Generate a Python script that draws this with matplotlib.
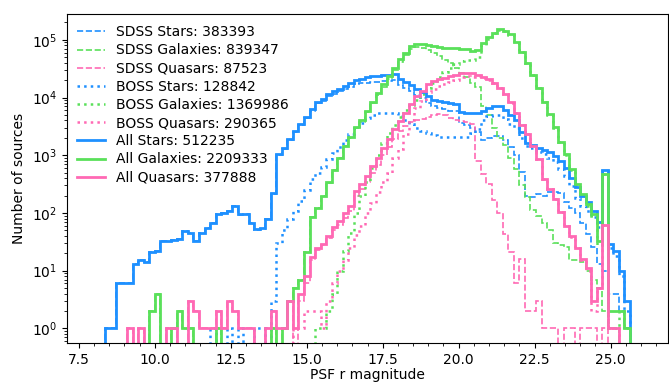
import numpy as np
import matplotlib
matplotlib.use('Agg')
import matplotlib.pyplot as plt
from matplotlib.ticker import MultipleLocator

# histogram bin edges (PSF r magnitude)
edges = np.linspace(8, 26, 100)

sdss_stars = [
    0, 0, 1, 1, 6, 6, 6, 13, 15, 14,
    21, 22, 32, 32, 34, 36, 48, 45, 33, 45,
    54, 67, 94, 100, 108, 133, 93, 94, 66, 51,
    53, 80, 215, 1010, 1300, 1810, 2520, 3280, 4350, 5870,
    8000, 8670, 10550, 11700, 12810, 14300, 15500, 16900, 17600, 17900,
    18300, 18700, 19100, 19500, 20000, 16500, 14600, 12800, 11200, 9900,
    8100, 7000, 6600, 6250, 5950, 5750, 3550, 3300, 2950, 2500,
    1850, 2000, 2170, 2170, 1800, 1400, 1000, 520, 200, 190,
    210, 200, 230, 230, 220, 155, 120, 98, 66, 44,
    26, 13, 10, 4, 4, 2, 1, 0, 0]
sdss_galaxies = [
    0, 0, 0, 0, 0, 0, 0, 0, 0, 0,
    2, 4, 0, 0, 1, 2, 1, 1, 0, 0,
    0, 0, 1, 0, 0, 0, 0, 0, 0, 0,
    0, 0, 1, 0, 1, 3, 5, 7, 21, 84,
    123, 197, 335, 556, 900, 1428, 1985, 2940, 3830, 5520,
    7900, 11200, 15300, 21200, 29600, 41200, 54000, 70100, 76000, 73500,
    67000, 59000, 52000, 45000, 39000, 33000, 27000, 23000, 18000, 15000,
    7000, 5000, 3000, 2000, 1500, 900, 575, 300, 190, 112,
    90, 66, 50, 30, 28, 26, 15, 15, 14, 10,
    7, 5, 2, 1, 1, 0, 0, 0, 0]
sdss_quasars = [
    0, 0, 0, 0, 0, 0, 1, 0, 1, 0,
    0, 0, 0, 1, 1, 0, 0, 3, 2, 1,
    1, 1, 2, 1, 3, 2, 1, 1, 1, 0,
    0, 1, 2, 1, 1, 3, 0, 3, 6, 15,
    23, 28, 37, 50, 63, 83, 108, 200, 255, 340,
    500, 680, 1000, 1400, 1900, 2600, 3200, 3700, 4000, 4300,
    4600, 5000, 5100, 4900, 4500, 4100, 3900, 3800, 3500, 800,
    470, 320, 166, 98, 44, 21, 6, 16, 2, 2,
    3, 1, 1, 1, 0, 1, 1, 0, 1, 1,
    1, 0, 1, 0, 0, 0, 0, 0, 0]
boss_stars = [
    0, 0, 0, 0, 0, 0, 0, 0, 0, 0,
    0, 0, 0, 0, 0, 0, 0, 0, 0, 0,
    0, 1, 0, 0, 1, 0, 1, 0, 0, 1,
    1, 0, 3, 30, 50, 80, 110, 160, 250, 380,
    500, 630, 850, 1100, 1390, 1800, 2300, 3000, 3600, 4400,
    5000, 5300, 5500, 5500, 5300, 4700, 4000, 3500, 3000, 2600,
    2400, 2200, 2100, 2050, 2050, 2050, 2050, 2100, 2450, 2900,
    4000, 4700, 4900, 4900, 4200, 3500, 3000, 2000, 1460, 1320,
    1140, 1030, 890, 750, 575, 445, 290, 178, 132, 108,
    84, 57, 540, 25, 18, 8, 2, 0, 0]
boss_galaxies = [
    0, 0, 0, 0, 0, 0, 0, 0, 0, 0,
    0, 0, 0, 0, 0, 0, 0, 0, 0, 0,
    0, 0, 0, 0, 0, 0, 0, 0, 0, 0,
    0, 0, 0, 0, 0, 0, 0, 0, 0, 0,
    1, 1, 2, 4, 10, 22, 45, 100, 200, 350,
    600, 1000, 1600, 2400, 3400, 4600, 6000, 7500, 9000, 11500,
    14500, 18000, 23000, 28000, 33000, 38000, 43000, 45000, 45000, 51000,
    82000, 105000, 130000, 150000, 143500, 123100, 89400, 61700, 39800, 24900,
    14400, 8330, 5050, 3020, 1670, 1014, 560, 300, 197, 132,
    88, 28, 478, 1, 1, 2, 1, 0, 0]
boss_quasars = [
    0, 0, 0, 0, 0, 0, 0, 0, 0, 0,
    0, 0, 0, 0, 0, 0, 0, 0, 0, 0,
    0, 0, 0, 0, 0, 0, 0, 0, 0, 0,
    0, 0, 0, 0, 0, 0, 1, 1, 2, 2,
    2, 1, 3, 6, 10, 15, 25, 41, 60, 100,
    150, 230, 350, 500, 900, 1300, 2300, 4150, 6700, 8700,
    12400, 14300, 15600, 17100, 18800, 20500, 22600, 23200, 23000, 23500,
    22130, 20380, 17934, 14702, 11356, 8179, 5494, 3384, 2368, 1448,
    847, 384, 257, 173, 102, 59, 39, 25, 15, 10,
    2, 5, 61, 1, 1, 0, 0, 0, 0]
all_stars = [
    0, 0, 1, 1, 6, 6, 6, 13, 15, 14,
    21, 22, 32, 32, 34, 36, 48, 45, 33, 45,
    54, 68, 94, 100, 109, 133, 94, 94, 66, 52,
    54, 80, 218, 1040, 1350, 1890, 2630, 3440, 4600, 6250,
    8500, 9300, 11400, 12800, 14200, 16100, 17800, 19900, 21200, 22300,
    23300, 24000, 24600, 25000, 25300, 21200, 18600, 16300, 14200, 12500,
    10500, 9200, 8700, 8300, 8000, 7800, 5600, 5400, 5400, 5400,
    5850, 6700, 7070, 7070, 6000, 4900, 4000, 2520, 1660, 1510,
    1350, 1230, 1120, 980, 795, 600, 410, 276, 198, 152,
    110, 70, 550, 29, 22, 10, 3, 0, 0]
all_galaxies = [
    0, 0, 0, 0, 0, 0, 0, 0, 0, 0,
    2, 4, 0, 0, 1, 2, 1, 1, 0, 0,
    0, 0, 1, 0, 0, 0, 0, 0, 0, 0,
    0, 0, 1, 0, 1, 3, 5, 7, 21, 84,
    124, 198, 337, 560, 910, 1450, 2030, 3040, 4030, 5870,
    8500, 12200, 16900, 23600, 33000, 45800, 60000, 77600, 85000, 85000,
    81500, 77000, 75000, 73000, 72000, 71000, 70000, 68000, 63000, 66000,
    89000, 110000, 133000, 152000, 145000, 124000, 90000, 62000, 40000, 25000,
    14500, 8400, 5100, 3050, 1700, 1040, 575, 315, 211, 142,
    95, 33, 480, 2, 2, 2, 1, 0, 0]
all_quasars = [
    0, 0, 0, 0, 0, 0, 1, 0, 1, 0,
    0, 0, 0, 1, 1, 0, 0, 3, 2, 1,
    1, 1, 2, 1, 3, 2, 1, 1, 1, 0,
    0, 1, 2, 1, 1, 3, 1, 4, 8, 17,
    25, 29, 40, 56, 73, 98, 133, 241, 315, 440,
    650, 910, 1350, 1900, 2800, 3900, 5500, 7850, 10700, 13000,
    17000, 19300, 20700, 22000, 23300, 24600, 26500, 27000, 26500, 24300,
    22600, 20700, 18100, 14800, 11400, 8200, 5500, 3400, 2370, 1450,
    850, 385, 258, 174, 102, 60, 40, 25, 16, 11,
    3, 5, 62, 1, 1, 0, 0, 0, 0]

blue = '#1e90ff'
green = '#5ae05a'
pink = '#ff69b4'

series = [
    (sdss_stars, blue, '--', 1.2, 'SDSS Stars: 383393'),
    (sdss_galaxies, green, '--', 1.2, 'SDSS Galaxies: 839347'),
    (sdss_quasars, pink, '--', 1.2, 'SDSS Quasars: 87523'),
    (boss_stars, blue, ':', 1.8, 'BOSS Stars: 128842'),
    (boss_galaxies, green, ':', 1.8, 'BOSS Galaxies: 1369986'),
    (boss_quasars, pink, ':', 1.8, 'BOSS Quasars: 290365'),
    (all_stars, blue, '-', 2.0, 'All Stars: 512235'),
    (all_galaxies, green, '-', 2.0, 'All Galaxies: 2209333'),
    (all_quasars, pink, '-', 2.0, 'All Quasars: 377888'),
]

fig = plt.figure(figsize=(6.69, 3.83), dpi=100)
ax = fig.add_axes([0.0997, 0.1036, 0.8993, 0.8598])

for vals, col, ls, lw, lab in series:
    ax.stairs(vals, edges, color=col, linestyle=ls, linewidth=lw, label=lab)

ax.set_yscale('log')
ax.set_xlim(7.1, 26.9)
ax.set_ylim(0.55, 2.8e5)
ax.xaxis.set_major_locator(MultipleLocator(2.5))
ax.xaxis.set_minor_locator(MultipleLocator(0.5))
ax.set_xlabel('PSF r magnitude', labelpad=1)
ax.set_ylabel('Number of sources')
ax.legend(loc='upper left', frameon=False, labelspacing=0.3,
          bbox_to_anchor=(-0.003, 1.004))

fig.savefig('out.png', dpi=100)
